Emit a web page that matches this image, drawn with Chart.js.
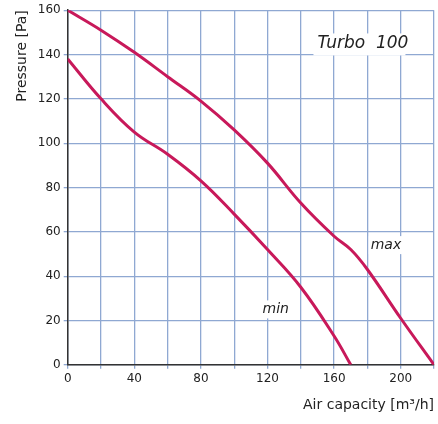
<!DOCTYPE html>
<html>
<head>
<meta charset="utf-8">
<script src="https://cdn.jsdelivr.net/npm/chart.js@4/dist/chart.umd.min.js"></script>
<style>
  html, body { margin: 0; background: #fff; }
  #wrap { width: 438px; height: 424px; }
</style>
</head>
<body>
<div id="wrap"><canvas id="chart"></canvas></div>
<script>
const maxFlow = [0, 20, 40, 60, 80, 100, 120, 140, 160, 170, 180, 200, 220];
const maxPressure = [160, 151, 141, 130, 119, 106, 91, 73, 58, 52, 43, 21, 0];
const minFlow = [0, 20, 40, 60, 80, 100, 120, 140, 160, 170];
const minPressure = [138, 120, 105, 95, 83, 68, 52, 35, 13, 0];

const curveColor = '#c8195a';
const gridColor = '#8fa8d2';

const toPoints = (xs, ys) => xs.map((x, i) => ({ x, y: ys[i] }));

// labels placed in data coordinates
const annotations = {
    id: 'annotations',
    afterDatasetsDraw(chart) {
        const { ctx, scales: { x, y } } = chart;
        ctx.save();
        ctx.textBaseline = 'middle';
        const tx = x.getPixelForValue(150), ty = y.getPixelForValue(145);
        ctx.fillStyle = '#fff';
        ctx.fillRect(tx - 4, ty - 10, 92, 22);
        ctx.fillStyle = '#222';
        ctx.font = 'italic 17px "DejaVu Sans"';
        ctx.fillText('Turbo  100', tx, ty);
        ctx.font = 'italic 14px "DejaVu Sans"';
        const mx = x.getPixelForValue(182), my = y.getPixelForValue(54);
        ctx.fillStyle = '#fff';
        ctx.fillRect(mx - 2, my - 9, 36, 18);
        ctx.fillStyle = '#222';
        ctx.fillText('max', mx, my);
        const nx = x.getPixelForValue(117), ny = y.getPixelForValue(25);
        ctx.fillStyle = '#fff';
        ctx.fillRect(nx - 2, ny - 9, 30, 18);
        ctx.fillStyle = '#222';
        ctx.fillText('min', nx, ny);
        ctx.restore();
    }
};

new Chart(document.getElementById('chart'), {
    type: 'line',
    data: {
        datasets: [
            { data: toPoints(maxFlow, maxPressure), borderColor: curveColor, borderWidth: 3, tension: 0.4, pointRadius: 0 },
            { data: toPoints(minFlow, minPressure), borderColor: curveColor, borderWidth: 3, tension: 0.4, pointRadius: 0 }
        ]
    },
    options: {
        responsive: true,
        maintainAspectRatio: false,
        animation: false,
        layout: { padding: { top: 10, right: 4, left: 10, bottom: 6 } },
        plugins: { legend: { display: false }, tooltip: { enabled: false } },
        scales: {
            x: {
                type: 'linear', min: 0, max: 220,
                ticks: {
                    stepSize: 20, color: '#222', font: { size: 12, family: 'DejaVu Sans' },
                    callback: v => (v % 40 === 0 && v < 220) ? v : ''
                },
                grid: { color: gridColor, lineWidth: 1.3, tickLength: 4 },
                border: { color: '#333', width: 1.5 },
                title: { display: true, text: 'Air capacity [m³/h]', align: 'end', color: '#222',
                         font: { size: 14, family: 'DejaVu Sans' }, padding: { top: 8 } }
            },
            y: {
                min: 0, max: 160,
                ticks: { stepSize: 20, color: '#222', font: { size: 12, family: 'DejaVu Sans' } },
                grid: { color: gridColor, lineWidth: 1.3, tickLength: 4 },
                border: { color: '#333', width: 1.5 },
                title: { display: true, text: 'Pressure [Pa]', align: 'end', color: '#222',
                         font: { size: 14, family: 'DejaVu Sans' } }
            }
        }
    },
    plugins: [annotations]
});
</script>
</body>
</html>
